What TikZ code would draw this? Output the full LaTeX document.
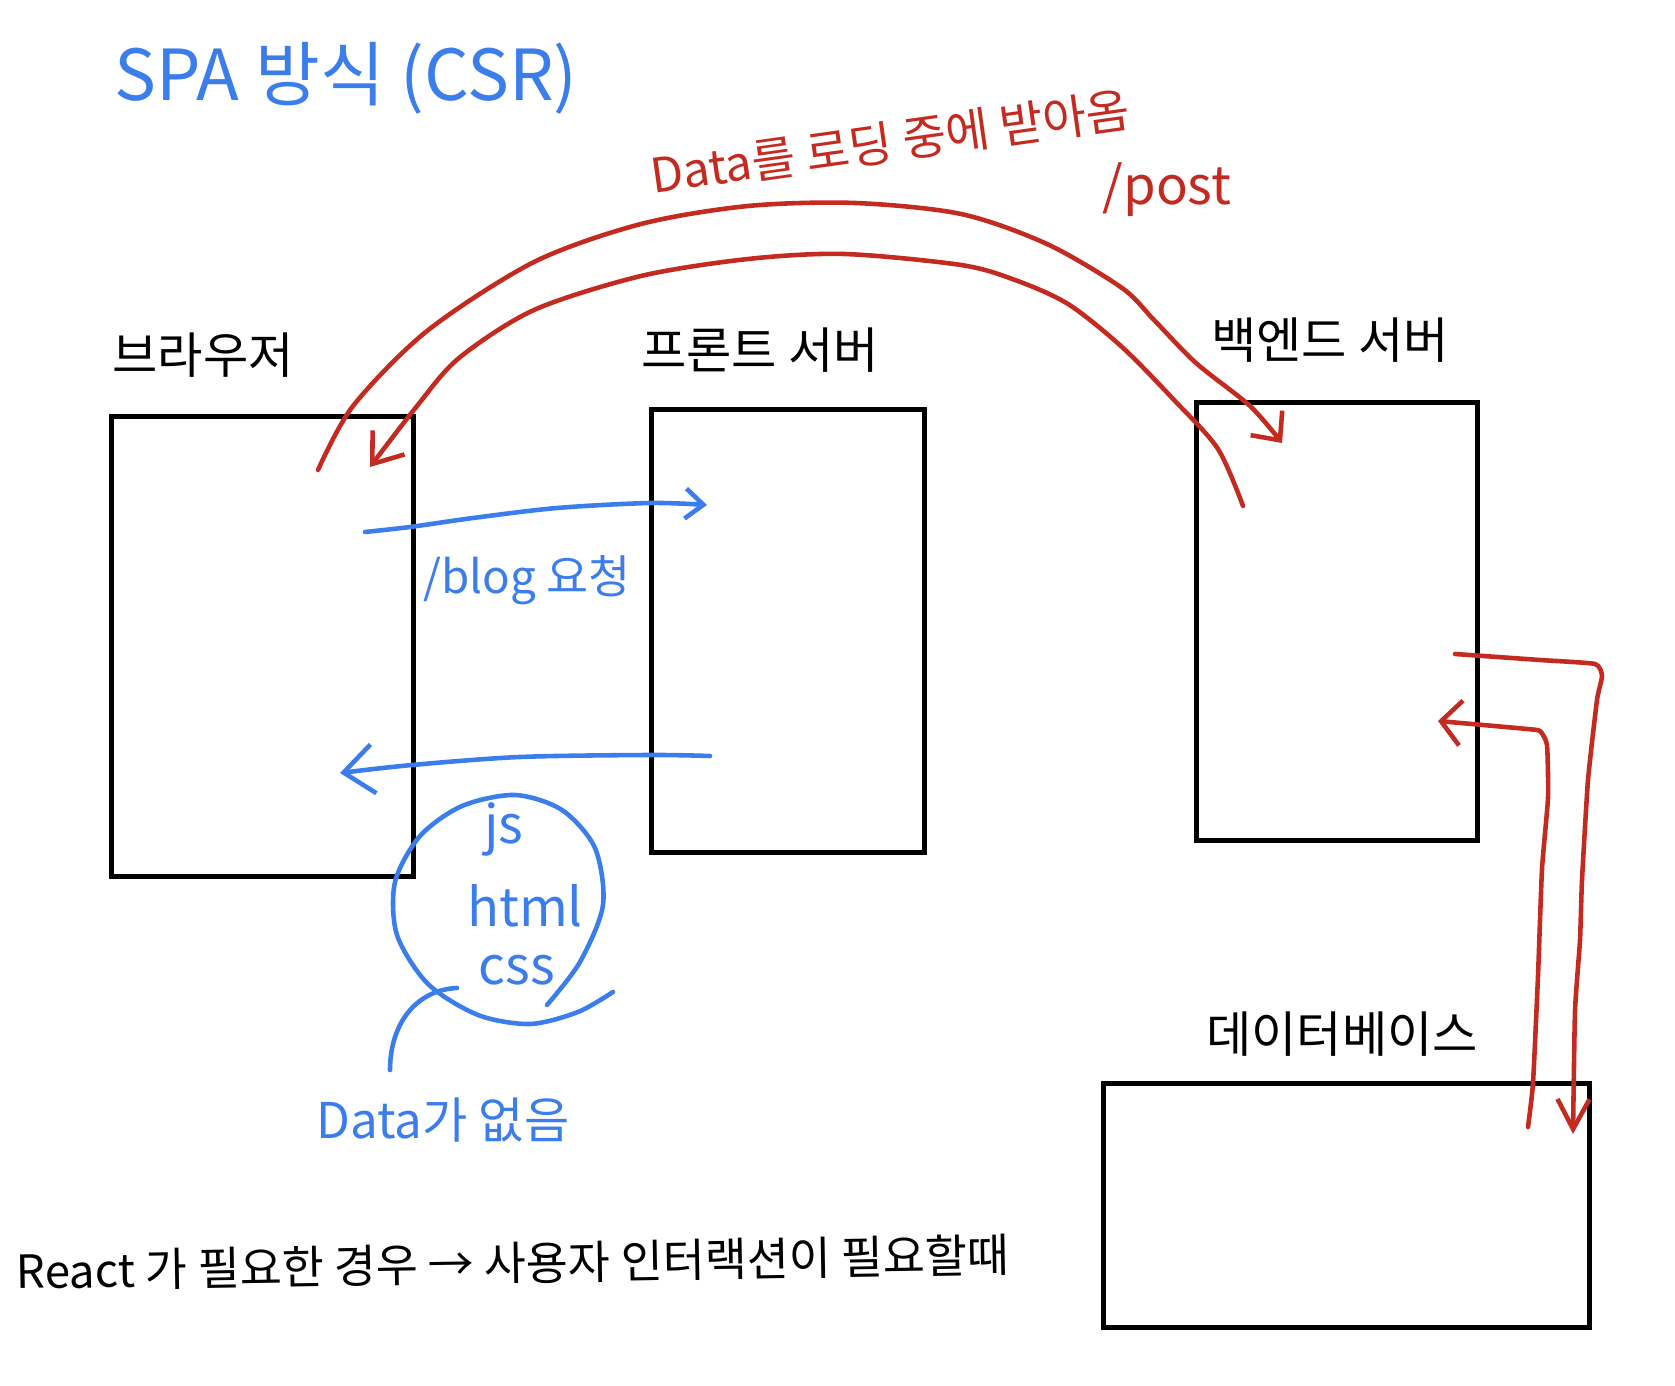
\documentclass[tikz,border=0pt]{standalone}
\usepackage{fontspec}
\setmainfont{Noto Sans CJK KR}
\usetikzlibrary{arrows.meta}
\definecolor{penblue}{HTML}{3B7EEB}
\definecolor{penred}{HTML}{C42B20}
\tikzset{
	server/.style={draw, line width=1.3pt, inner sep=0pt, anchor=north west},
	servername/.style={font=\fontsize{14}{16}\selectfont},
	bluepen/.style={penblue, line width=1.3pt, line cap=round, line join=round},
	redpen/.style={penred, line width=1.3pt, line cap=round, line join=round},
	barb/.style 2 args={-{Straight Barb[length=#1, width=#2]}},
}
\begin{document}
\begin{tikzpicture}[x=0.01cm, y=-0.01cm]
	\useasboundingbox (0, 0) rectangle (1675, 1386);

	% servers
	\node[server, minimum width=3.02cm, minimum height=4.60cm] (browser) at (109, 414) {};
	\node[server, minimum width=2.73cm, minimum height=4.43cm] (front) at (649, 407) {};
	\node[server, minimum width=2.81cm, minimum height=4.38cm] (backend) at (1194, 400) {};
	\node[server, minimum width=4.86cm, minimum height=2.44cm] (db) at (1101, 1081) {};

	\node[servername] (browserlbl) at (203, 355) {브라우저};
	\node[servername] (frontlbl) at (760, 350) {프론트 서버};
	\node[servername] (backendlbl) at (1330, 340) {백엔드 서버};
	\node[servername] (dblbl) at (1342, 1034) {데이터베이스};

	% titles and notes
	\node[penblue, font=\fontsize{20}{24}\selectfont] (title) at (346, 78) {SPA 방식 (CSR)};
	\node[penred, rotate=8, font=\fontsize{13.5}{16}\selectfont] (loading) at (890, 142) {Data를 로딩 중에 받아옴};
	\node[penred, font=\fontsize{15}{18}\selectfont] (post) at (1167, 190) {/post};
	\node[rotate=1, font=\fontsize{13}{15}\selectfont] (react) at (513, 1263) {React 가 필요한 경우 → 사용자 인터랙션이 필요할때};

	% browser <-> front
	\coordinate (reqS) at (365, 532);
	\coordinate (reqE) at (707, 505);
	\draw[bluepen, barb={1.8mm}{3mm}] plot[smooth] coordinates {(reqS) (410, 527) (473, 518) (557, 508) (650, 503) (reqE)};
	\node[penblue, font=\fontsize{13}{15}\selectfont] (blog) at (527, 580) {/blog 요청};

	\coordinate (resS) at (710, 756);
	\coordinate (resE) at (340, 773);
	\draw[bluepen, barb={3mm}{4.9mm}] plot[smooth] coordinates {(resS) (650, 755) (520, 757) (412, 765) (resE)};

	\node[penblue, font=\fontsize{15}{18}\selectfont] (js) at (504, 829) {js};
	\node[penblue, font=\fontsize{15}{18}\selectfont] (html) at (525, 906) {html};
	\node[penblue, font=\fontsize{15}{18}\selectfont] (css) at (517, 970) {css};
	\draw[bluepen] plot[smooth] coordinates {(547, 1005) (580, 962) (603, 905) (595, 848) (562, 810) (515, 795) (462, 806) (420, 836) (395, 882) (397, 935) (428, 984) (478, 1015) (530, 1024) (578, 1012) (613, 992)};

	\coordinate (ptrS) at (457, 988);
	\coordinate (ptrE) at (390, 1070);
	\draw[bluepen] (ptrS) .. controls (415, 990) and (390, 1025) .. (ptrE);
	\node[penblue, font=\fontsize{14}{17}\selectfont] (nodata) at (443, 1120) {Data가 없음};

	% browser <-> backend
	\coordinate (outS) at (318, 470);
	\coordinate (outE) at (1282, 443);
	\draw[redpen, barb={2.2mm}{4mm}] plot[smooth] coordinates {(outS) (353, 406) (427, 331) (534, 262) (641, 224) (748, 206) (855, 203) (961, 214) (1047, 244) (1122, 288) (1154, 320) (1196, 363) (1250, 406) (outE)};

	\coordinate (inS) at (1243, 506);
	\coordinate (inE) at (370, 467);
	\draw[redpen, barb={2.7mm}{4mm}] plot[smooth] coordinates {(inS) (1218, 449) (1175, 401) (1122, 347) (1068, 304) (1015, 280) (961, 265) (844, 254) (748, 259) (641, 276) (534, 310) (459, 358) (417, 406) (inE)};

	% backend <-> db
	\coordinate (qS) at (1455, 654);
	\coordinate (qE) at (1573, 1134);
	\draw[redpen, barb={3mm}{3.2mm}] plot[smooth, tension=0.3] coordinates {(qS) (1540, 660) (1595, 664) (1602, 676) (1597, 700) (1588, 780) (1582, 880) (1580, 940) (1575, 1011) (qE)};

	\coordinate (aS) at (1528, 1127);
	\coordinate (aE) at (1438, 721);
	\draw[redpen, barb={2mm}{4.5mm}] plot[smooth, tension=0.3] coordinates {(aS) (1533, 1083) (1538, 976) (1542, 869) (1548, 798) (1547, 745) (1540, 731) (1527, 729) (1483, 725) (aE)};
\end{tikzpicture}
\end{document}
